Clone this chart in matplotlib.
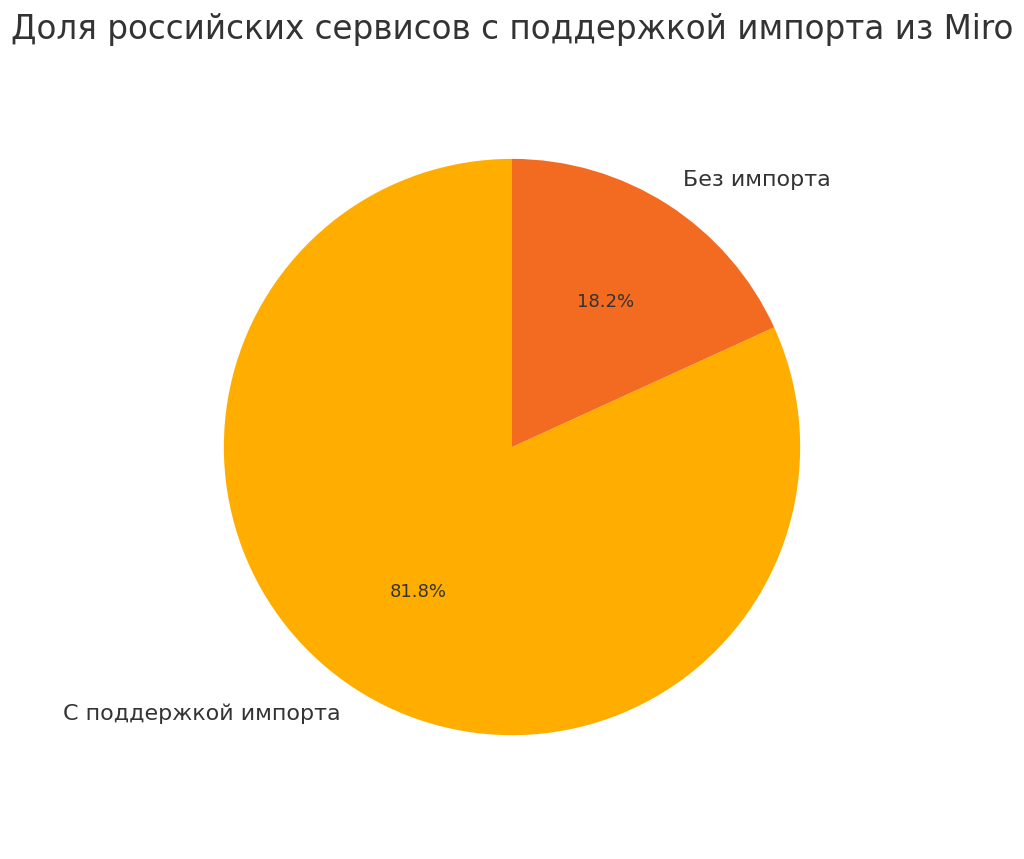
import matplotlib.pyplot as plt

labels = ["С поддержкой импорта", "Без импорта"]
counts = [9, 2]
colors = ["#FFAE00", "#F36A21"]

plt.rcParams['font.family'] = ['DejaVu Sans']
fig, ax = plt.subplots(figsize=(10.24, 8.59), dpi=100)
fig.subplots_adjust(left=0.0, right=1.0, top=0.8486, bottom=0.1106)

wedges, texts, autotexts = ax.pie(counts, labels=labels, colors=colors, startangle=90,
                                  autopct='%1.1f%%', labeldistance=1.1,
                                  textprops={'color': '#333333', 'fontsize': 16})
for t in autotexts:
    t.set_fontsize(13)
fig.suptitle("Доля российских сервисов с поддержкой импорта из Miro", fontsize=23.5,
             color='#333333', y=0.966, va='center')
ax.axis('equal')

plt.savefig("out.png")
